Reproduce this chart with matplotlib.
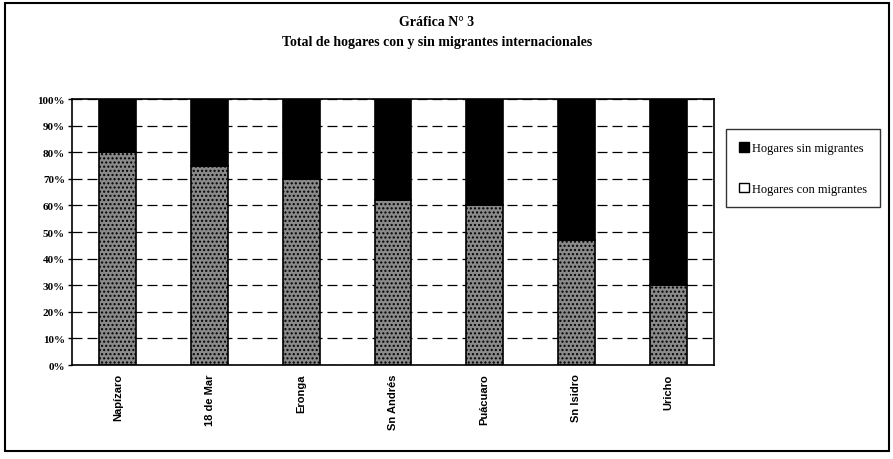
import numpy as np
import matplotlib.pyplot as plt
from matplotlib.patches import Rectangle, Patch

localidades = ["Napízaro", "18 de Mar", "Eronga", "Sn Andrés", "Puácuaro", "Sn Isidro", "Uricho"]
con_migrantes = [80, 75, 70, 62, 60, 47, 30]
sin_migrantes = [20, 25, 30, 38, 40, 53, 70]
yticks = [0, 10, 20, 30, 40, 50, 60, 70, 80, 90, 100]


def main():
    fig = plt.figure(figsize=(8.93, 4.60), dpi=100)
    ax = fig.add_axes([0.0806, 0.2043, 0.7190, 0.5783])

    x = np.arange(len(localidades))
    ax.bar(x, con_migrantes, width=0.4, color="#8a8a8a", edgecolor="black",
           hatch="....", linewidth=1.2, label="Hogares con migrantes", zorder=2)
    ax.bar(x, sin_migrantes, width=0.4, bottom=con_migrantes, color="black",
           edgecolor="black", linewidth=1.2, label="Hogares sin migrantes", zorder=2)

    ax.set_xlim(-0.5, len(localidades) - 0.5)
    ax.set_ylim(0, 100)
    ax.set_yticks(yticks)
    ax.set_yticklabels([f"{v}%" for v in yticks], fontfamily="Liberation Serif",
                       fontweight="bold", fontsize=8)
    ax.set_xticks(x)
    ax.set_xticklabels(localidades, rotation=90, fontfamily="Liberation Sans",
                       fontweight="bold", fontsize=8, va="top")
    ax.tick_params(axis="x", length=0, pad=6)
    ax.tick_params(axis="y", length=3, width=1, pad=2)
    ax.grid(axis="y", color="black", linestyle=(0, (8, 4)), linewidth=0.9, zorder=0)
    ax.set_axisbelow(True)
    for s in ax.spines.values():
        s.set_linewidth(1.2)

    fig.text(0.489, 0.952, "Gráfica N° 3", ha="center", va="center",
             fontfamily="Liberation Serif", fontweight="bold", fontsize=10)
    fig.text(0.489, 0.908, "Total de hogares con y sin migrantes internacionales",
             ha="center", va="center", fontfamily="Liberation Serif",
             fontweight="bold", fontsize=10)

    handles = [Patch(facecolor="black", edgecolor="black"),
               Patch(facecolor="white", edgecolor="black")]
    fig.legend(handles, ["Hogares sin migrantes", "Hogares con migrantes"],
               loc="upper left", bbox_to_anchor=(0.806, 0.73),
               prop={"family": "Liberation Serif", "size": 9},
               frameon=True, fancybox=False, edgecolor="black",
               handlelength=0.8, handleheight=0.8, handletextpad=0.3,
               labelspacing=2.3, borderpad=1.0)

    # outer frame of the chart
    fig.patches.append(Rectangle((0.006, 0.017), 0.99, 0.975, transform=fig.transFigure,
                                 fill=False, edgecolor="black", linewidth=1.5))

    fig.savefig("out.png", dpi=100)


if __name__ == "__main__":
    main()
